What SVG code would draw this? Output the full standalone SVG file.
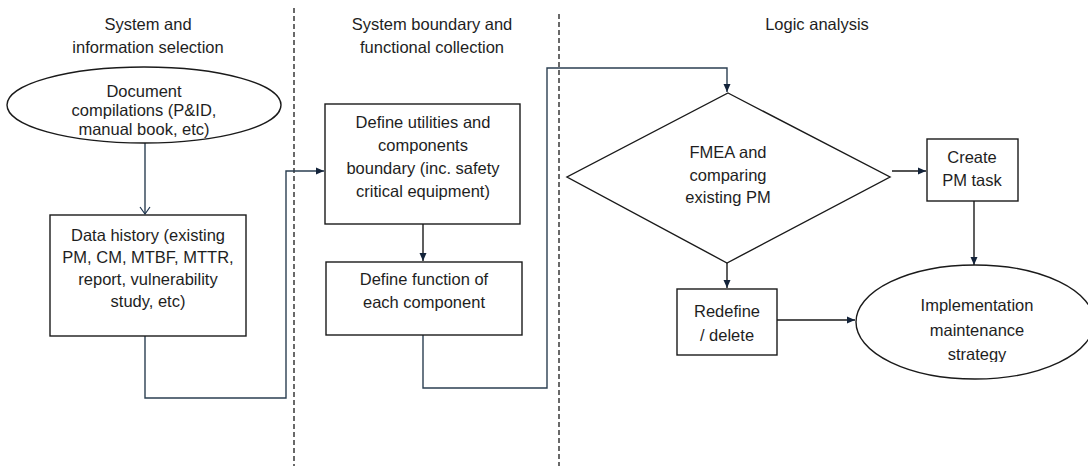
<svg xmlns="http://www.w3.org/2000/svg" width="1088" height="471" viewBox="0 0 1088 471">
  <defs>
    <marker id="fill" markerWidth="10" markerHeight="10" refX="9" refY="5" orient="auto" markerUnits="userSpaceOnUse">
      <path d="M1,1.5 L9,5 L1,8.5 Z" fill="#13233a"/>
    </marker>
    <marker id="open" markerWidth="12" markerHeight="12" refX="6" refY="10" orient="0" markerUnits="userSpaceOnUse">
      <path d="M1,3 L6,10 L11,3" fill="none" stroke="#1f3550" stroke-width="1.2"/>
    </marker>
    <clipPath id="clipImpl">
      <rect x="850" y="260" width="240" height="102"/>
    </clipPath>
  </defs>
  <style>
    .t { font-family: "Liberation Sans", Arial, sans-serif; font-size: 16.5px; fill: #1e1e1e; text-anchor: middle; }
    .shape { fill: #ffffff; stroke: #1a1a1a; stroke-width: 1.4; }
    .conn { fill: none; stroke: #1a1a1a; stroke-width: 1.4; }
    .conn2 { fill: none; stroke: #2b3f52; stroke-width: 1.4; }
    .dash { stroke: #1a1a1a; stroke-width: 1.3; stroke-dasharray: 5 3; }
  </style>
  <rect width="1088" height="471" fill="#ffffff"/>

  <g id="dividers">
    <line class="dash" x1="294" y1="8" x2="294" y2="466"/>
    <line class="dash" x1="559" y1="14" x2="559" y2="466"/>
  </g>

  <g id="headers">
    <text class="t" x="148" y="30">System and</text>
    <text class="t" x="148" y="53">information selection</text>
    <text class="t" x="432" y="30">System boundary and</text>
    <text class="t" x="432" y="53">functional collection</text>
    <text class="t" x="817" y="30">Logic analysis</text>
  </g>

  <g id="connectors">
    <line class="conn2" x1="145" y1="143" x2="145" y2="214" marker-end="url(#open)"/>
    <path class="conn2" d="M145,336 V398 H286 V171 H324" marker-end="url(#fill)"/>
    <line class="conn" x1="423" y1="224" x2="423" y2="261" marker-end="url(#fill)"/>
    <path class="conn2" d="M423,335 V388 H547 V68 H727 V92" marker-end="url(#fill)"/>
    <line class="conn" x1="892" y1="171" x2="926" y2="171" marker-end="url(#fill)"/>
    <line class="conn" x1="974" y1="201" x2="974" y2="265" marker-end="url(#fill)"/>
    <line class="conn" x1="727" y1="263" x2="727" y2="288" marker-end="url(#fill)"/>
    <line class="conn" x1="777" y1="320" x2="855" y2="320" marker-end="url(#fill)"/>
  </g>

  <g id="node-document">
    <ellipse class="shape" cx="144" cy="105" rx="137" ry="38"/>
    <text class="t" x="144" y="97">Document</text>
    <text class="t" x="144" y="116">compilations (P&amp;ID,</text>
    <text class="t" x="144" y="135">manual book, etc)</text>
  </g>

  <g id="node-data-history">
    <rect class="shape" x="50" y="215" width="196" height="121"/>
    <text class="t" x="148" y="241">Data history (existing</text>
    <text class="t" x="148" y="263">PM, CM, MTBF, MTTR,</text>
    <text class="t" x="148" y="285">report, vulnerability</text>
    <text class="t" x="148" y="307">study, etc)</text>
  </g>

  <g id="node-define-utilities">
    <rect class="shape" x="325" y="104" width="195" height="120"/>
    <text class="t" x="423" y="128">Define utilities and</text>
    <text class="t" x="423" y="151">components</text>
    <text class="t" x="423" y="174">boundary (inc. safety</text>
    <text class="t" x="423" y="197">critical equipment)</text>
  </g>

  <g id="node-define-function">
    <rect class="shape" x="326" y="262" width="196" height="73"/>
    <text class="t" x="424" y="285">Define function of</text>
    <text class="t" x="424" y="308">each component</text>
  </g>

  <g id="node-fmea">
    <polygon class="shape" points="728,93 890,177 727,263 567,177"/>
    <text class="t" x="728" y="158">FMEA and</text>
    <text class="t" x="728" y="181">comparing</text>
    <text class="t" x="728" y="203">existing PM</text>
  </g>

  <g id="node-create-pm">
    <rect class="shape" x="927" y="139" width="91" height="62"/>
    <text class="t" x="972" y="163">Create</text>
    <text class="t" x="972" y="186">PM task</text>
  </g>

  <g id="node-redefine">
    <rect class="shape" x="677" y="289" width="100" height="66"/>
    <text class="t" x="727" y="317">Redefine</text>
    <text class="t" x="727" y="341">/ delete</text>
  </g>

  <g id="node-implementation">
    <ellipse class="shape" cx="975" cy="322" rx="119" ry="57"/>
    <g clip-path="url(#clipImpl)">
      <text class="t" x="977" y="311">Implementation</text>
      <text class="t" x="977" y="336">maintenance</text>
      <text class="t" x="977" y="360">strategy</text>
    </g>
  </g>
</svg>
